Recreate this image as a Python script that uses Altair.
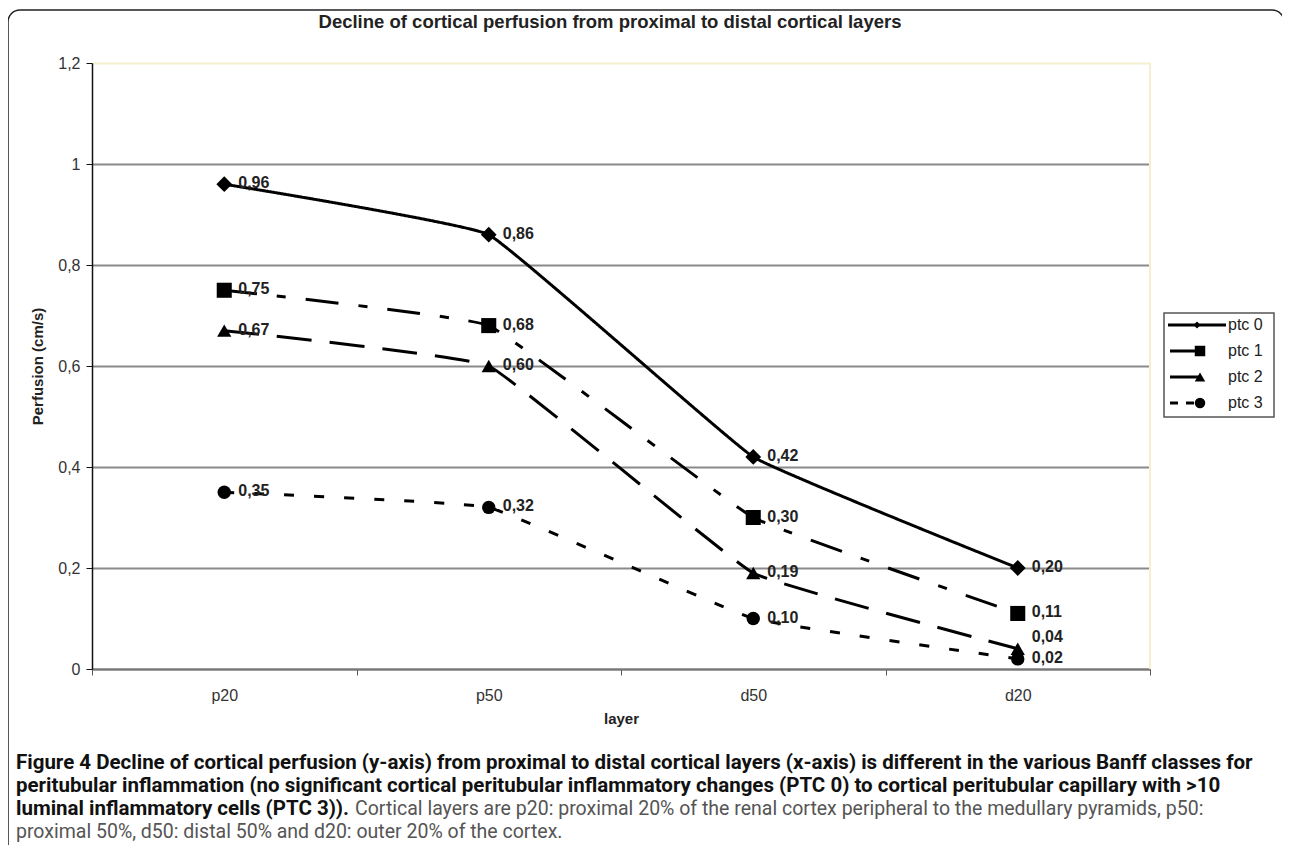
import altair as alt
import pandas as pd

# ---- data ----
layers = ["p20", "p50", "d50", "d20"]
series = ["ptc 0", "ptc 1", "ptc 2", "ptc 3"]
ptc0 = [0.96, 0.86, 0.42, 0.20]
ptc1 = [0.75, 0.68, 0.30, 0.11]
ptc2 = [0.67, 0.60, 0.19, 0.04]
ptc3 = [0.35, 0.32, 0.10, 0.02]
y_ticks = [0, 0.2, 0.4, 0.6, 0.8, 1.0, 1.2]

title_text = "Decline of cortical perfusion from proximal to distal cortical layers"
cap1 = "Figure 4 Decline of cortical perfusion (y-axis) from proximal to distal cortical layers (x-axis) is different in the various Banff classes for"
cap2 = "peritubular inflammation (no significant cortical peritubular inflammatory changes (PTC 0) to cortical peritubular capillary with >10"
cap3b = "luminal inflammatory cells (PTC 3))."
cap3r = "Cortical layers are p20: proximal 20% of the renal cortex peripheral to the medullary pyramids, p50:"
cap4 = "proximal 50%, d50: distal 50% and d20: outer 20% of the cortex."

rows = []
for s, vals in zip(series, [ptc0, ptc1, ptc2, ptc3]):
    for l, v in zip(layers, vals):
        rows.append({"series": s, "layer": l, "value": v})
df = pd.DataFrame(rows)

FONT = "Liberation Sans"
CAPFONT = "Roboto"
W, H = 1058, 606

dash_range = [[1, 0], [33, 20, 9, 20], [35, 18], [10, 20]]
shape_range = ["diamond", "square", "triangle-up", "circle"]
size_range = [250, 180, 210, 200]

xenc = alt.X(
    "layer:N",
    sort=layers,
    scale=alt.Scale(type="band", domain=layers, paddingInner=0, paddingOuter=0),
    axis=alt.Axis(
        title="layer", labelAngle=0, tickBand="extent", grid=False,
        domainColor="#777777", domainWidth=2, tickColor="#555555", tickSize=6,
        labelFont=FONT, labelFontSize=16, labelColor="#333333", labelPadding=12,
        titleFont=FONT, titleFontSize=15, titleFontWeight="bold", titleColor="#222222",
        titlePadding=8,
    ),
)
yenc = alt.Y(
    "value:Q",
    scale=alt.Scale(domain=[0, 1.2], nice=False, zero=True),
    axis=alt.Axis(
        values=y_ticks, title="Perfusion (cm/s)",
        labelExpr="replace(format(datum.value, '.1~f'), '.', ',')",
        grid=True,
        gridColor={"condition": {"test": "datum.value >= 1.19", "value": "#f6efcf"}, "value": "#8a8a8a"},
        gridWidth=2, domainColor="#111111", domainWidth=1.5, tickColor="#111111", tickSize=6,
        labelFont=FONT, labelFontSize=16, labelColor="#333333", labelPadding=6,
        titleFont=FONT, titleFontSize=15, titleFontWeight="bold", titleColor="#222222",
        titlePadding=12,
    ),
)

base = alt.Chart(df)
lines = base.mark_line(interpolate="cardinal", tension=0.75, strokeWidth=3, color="black").encode(
    x=xenc, y=yenc,
    strokeDash=alt.StrokeDash("series:N", scale=alt.Scale(domain=series, range=dash_range), legend=None),
    detail="series:N",
)
points = base.mark_point(filled=True, color="black", opacity=1).encode(
    x=xenc, y=yenc,
    shape=alt.Shape("series:N", scale=alt.Scale(domain=series, range=shape_range), legend=None),
    size=alt.Size("series:N", scale=alt.Scale(domain=series, range=size_range), legend=None),
)
lab_base = base.transform_calculate(
    lab="replace(format(datum.value, '.2f'), '.', ',')",
    lifted="datum.series == 'ptc 2' && datum.layer == 'd20'",
)
labkw = dict(align="left", baseline="middle", dx=14, font=FONT, fontSize=16,
             fontWeight="bold", color="#222222")
labels = lab_base.transform_filter("!datum.lifted").mark_text(dy=-1, **labkw).encode(
    x=xenc, y=yenc, text="lab:N")
labels_up = lab_base.transform_filter("datum.lifted").mark_text(dy=-12, **labkw).encode(
    x=xenc, y=yenc, text="lab:N")

one = pd.DataFrame({"a": [0]})

def txt(text, x, y, **kw):
    return alt.Chart(one).mark_text(text=text, **kw).encode(x=alt.value(x), y=alt.value(y))

frame = alt.Chart(one).mark_rect(fill=None, stroke="#222222", strokeWidth=1.5, cornerRadius=12).encode(
    x=alt.value(-84), x2=alt.value(1192), y=alt.value(-53), y2=alt.value(820)
)
right_edge = alt.Chart(one).mark_rule(color="#f6efcf", strokeWidth=2).encode(
    x=alt.value(W), y=alt.value(0), y2=alt.value(H)
)
title = txt(title_text, 518, -41, align="center", baseline="middle", font=FONT,
            fontSize=18.5, fontWeight="bold", color="#222222")

legend_layers = [
    alt.Chart(one).mark_rect(fill="white", stroke="#555555", strokeWidth=1.5).encode(
        x=alt.value(1072), x2=alt.value(1182), y=alt.value(250), y2=alt.value(354)
    )
]
leg_rows_y = [262, 288, 314, 340]
leg_line_x = [(1076, 1134), (1078, 1108), (1078, 1108), (1078, 1110)]
leg_mark_x = [1105, 1108, 1108, 1108]
leg_sizes = [50, 110, 110, 110]
leg_dash = [[1, 0], [12, 0], [12, 0], [8, 8]]
for i, s in enumerate(series):
    yy = leg_rows_y[i]
    legend_layers.append(
        alt.Chart(one).mark_rule(color="black", strokeWidth=3, strokeDash=leg_dash[i]).encode(
            x=alt.value(leg_line_x[i][0]), x2=alt.value(leg_line_x[i][1]), y=alt.value(yy)
        )
    )
    legend_layers.append(
        alt.Chart(one).mark_point(filled=True, color="black", opacity=1, shape=shape_range[i],
                                  size=leg_sizes[i]).encode(x=alt.value(leg_mark_x[i]), y=alt.value(yy))
    )
    legend_layers.append(txt(s, 1136, yy, align="left", baseline="middle", font=FONT,
                             fontSize=16, color="#222222"))

capkw_b = dict(align="left", baseline="middle", font=CAPFONT, fontSize=20.5, fontWeight="bold", color="#111111")
capkw_r = dict(align="left", baseline="middle", font=CAPFONT, fontSize=19.5, color="#555555")
caption = [
    txt(cap1, -76, 700, **capkw_b),
    txt(cap2, -76, 723, **capkw_b),
    txt(cap3b, -76, 746, **capkw_b),
    txt(cap3r, 263, 746, **capkw_r),
    txt(cap4, -76, 769, **capkw_r),
]

chart = alt.layer(
    frame, right_edge, lines, points, labels, labels_up, title, *legend_layers, *caption
).properties(
    width=W, height=H,
    autosize=alt.AutoSizeParams(type="none"),
    padding={"left": 84, "top": 55, "right": 132, "bottom": 176},
    background="white",
).configure_view(stroke=None)

chart.save("out.html", embed_options={"renderer": "svg", "actions": False})
